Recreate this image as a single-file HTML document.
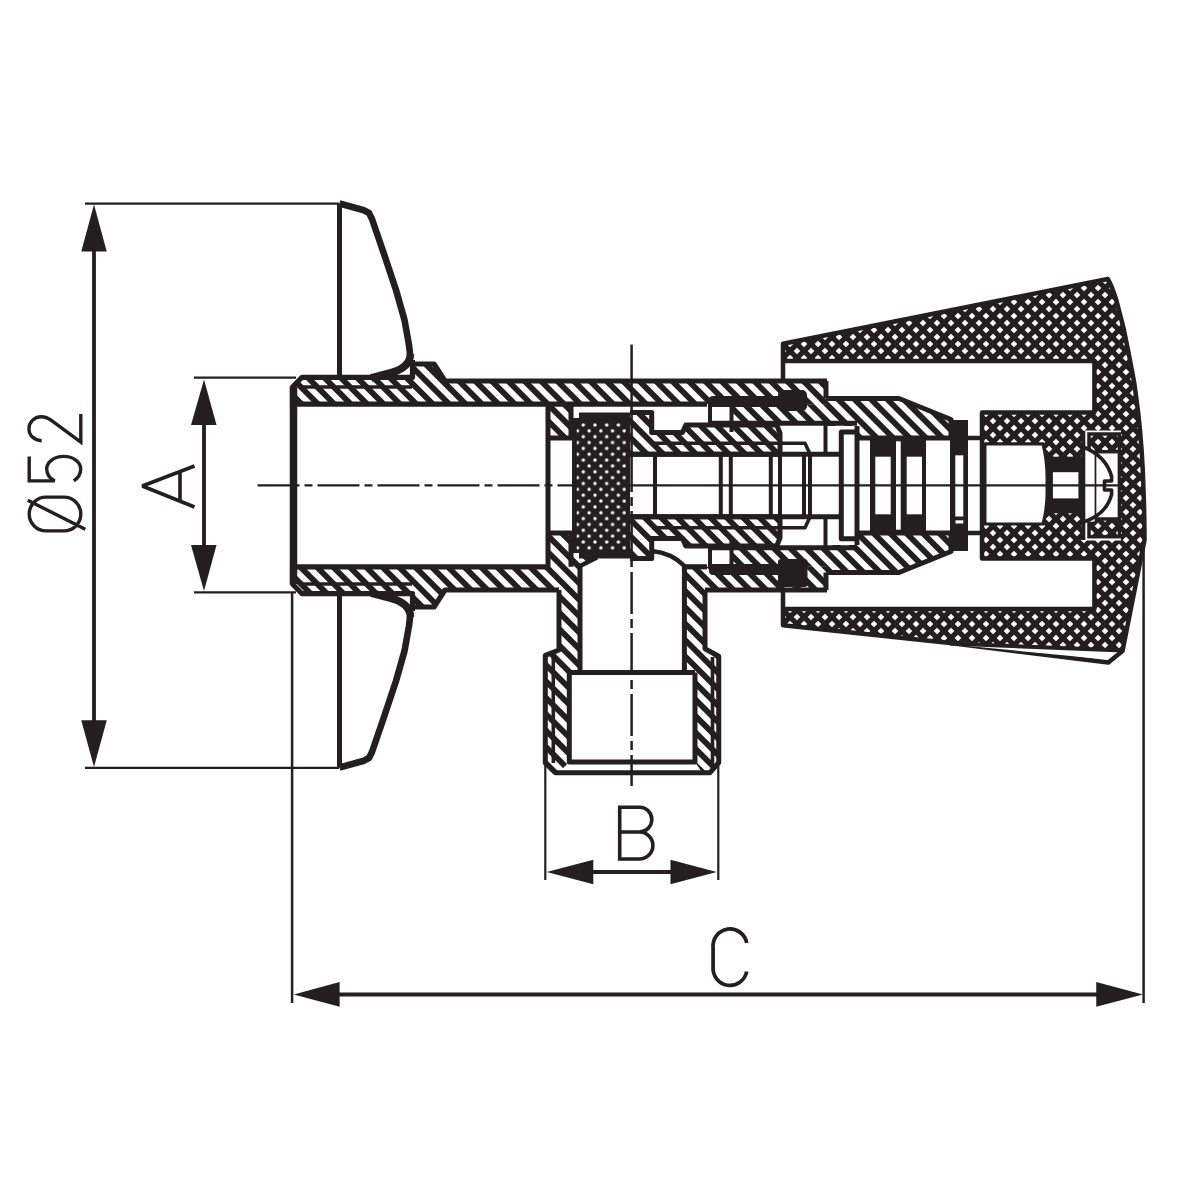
<!DOCTYPE html>
<html><head><meta charset="utf-8"><style>
html,body{margin:0;padding:0;background:#fff;}
svg{display:block;}
</style></head><body>
<svg width="1200" height="1200" viewBox="0 0 1200 1200">
<defs>
<pattern id="h" patternUnits="userSpaceOnUse" width="11.6" height="11.6" patternTransform="rotate(45)">
<rect x="0" y="0" width="11.6" height="5.8" fill="#231f20"/>
</pattern>
<pattern id="k" patternUnits="userSpaceOnUse" width="14" height="14" x="13" y="1">
<rect width="14" height="14" fill="#231f20"/>
<path d="M0,-3.3 L3.3,0 L0,3.3 L-3.3,0Z M14,-3.3 L17.3,0 L14,3.3 L10.7,0Z M0,10.7 L3.3,14 L0,17.3 L-3.3,14Z M14,10.7 L17.3,14 L14,17.3 L10.7,14Z M7,3.7 L10.3,7 L7,10.3 L3.7,7Z" fill="#fff"/>
</pattern>
<pattern id="d" patternUnits="userSpaceOnUse" width="11.7" height="11.7" x="583.3" y="425">
<rect width="11.9" height="11.9" fill="#231f20"/>
<circle cx="0" cy="0" r="1.7" fill="#fff"/><circle cx="11.7" cy="0" r="1.7" fill="#fff"/>
<circle cx="0" cy="11.7" r="1.7" fill="#fff"/><circle cx="11.7" cy="11.7" r="1.7" fill="#fff"/>
<circle cx="5.85" cy="5.85" r="1.7" fill="#fff"/>
</pattern>
</defs>
<rect width="1200" height="1200" fill="#fff"/>
<line x1="94" y1="250" x2="94" y2="722" stroke="#231f20" stroke-width="3.8" />
<polygon points="94,204.5 81.25,251.5 106.75,251.5" fill="#231f20" />
<polygon points="94,767 81.25,720.3 106.75,720.3" fill="#231f20" />
<line x1="85" y1="203.6" x2="339" y2="203.6" stroke="#231f20" stroke-width="2.2" />
<line x1="85" y1="767.8" x2="339" y2="767.8" stroke="#231f20" stroke-width="2.2" />
<line x1="204" y1="420" x2="204" y2="550" stroke="#231f20" stroke-width="3.8" />
<polygon points="204,379.5 191,425 216.5,425" fill="#231f20" />
<polygon points="204,591 191,545 216.5,545" fill="#231f20" />
<line x1="194" y1="377.7" x2="296" y2="377.7" stroke="#231f20" stroke-width="2.2" />
<line x1="194" y1="592.3" x2="296" y2="592.3" stroke="#231f20" stroke-width="2.2" />
<line x1="590" y1="872" x2="675" y2="872" stroke="#231f20" stroke-width="3.8" />
<polygon points="546.7,872 593.3,859.7 593.3,884.2" fill="#231f20" />
<polygon points="716.7,872 670.5,859.7 670.5,884.2" fill="#231f20" />
<line x1="545.3" y1="765" x2="545.3" y2="880" stroke="#231f20" stroke-width="2.2" />
<line x1="718.3" y1="765" x2="718.3" y2="880" stroke="#231f20" stroke-width="2.2" />
<line x1="335" y1="994.5" x2="1100" y2="994.5" stroke="#231f20" stroke-width="4" />
<polygon points="293.75,994.5 339.6,982 339.6,1006.7" fill="#231f20" />
<polygon points="1142.9,994.5 1096.25,982 1096.25,1006.7" fill="#231f20" />
<line x1="292.1" y1="592" x2="292.1" y2="1003" stroke="#231f20" stroke-width="2.5" />
<line x1="1143.6" y1="540" x2="1143.6" y2="1003" stroke="#231f20" stroke-width="2.5" />
<path fill="none" stroke="#231f20" stroke-width="3.6" stroke-linejoin="bevel" d="M194.5,466 L142.3,486 L194.5,507 M180,471.4 V500.6"/>
<path fill="none" stroke="#231f20" stroke-linecap="butt" stroke-linejoin="miter" stroke-width="3.6" d="M619.7,860.8 V807.2 H639.4 A12.4,12.4 0 0 1 639.4,832 H619.7 M639.4,832 A13.5,13.5 0 0 1 639.4,859 H619.7"/>
<path fill="none" stroke="#231f20" stroke-linecap="butt" stroke-linejoin="miter" stroke-width="3.75" d="M746.7,943 A17,17.3 0 0 0 713.1,948.1 V966.5 A17,17.3 0 0 0 746.7,971.5"/>
<g transform="translate(82.7,532.7) rotate(-90)"><path fill="none" stroke="#231f20" stroke-linecap="butt" stroke-linejoin="miter" stroke-width="3.4" d="M35.6,-36.6 V-18.8 A16.9,16.9 0 0 1 1.8,-18.8 V-36.6 A16.9,16.9 0 0 1 35.6,-36.6 Z M3.5,2.6 L32.5,-55 M76.2,-53.5 H51.8 L51.8,-28 Q56,-36 64,-36 A12.3,17 0 0 1 64,-2 Q56,-2 52,-9 M92,-41 A12,12.5 0 0 1 116,-41.5 Q116,-36 112,-31 L90.5,-1.9 H118.7"/></g>
<path d="M783,343.8 L1107.8,279 Q1112,286 1116.5,301 Q1124,327 1129,355 Q1135,383 1138,411 Q1142.5,450 1143.5,490 Q1144.5,515 1144.5,540 L1122.5,651 L950,643 L783,625.3 Z" fill="url(#k)" />
<polygon points="778,361 1094.4,361 1094.4,412.5 982,412.5 982,558.5 1094.4,558.5 1094.4,609 778,609" fill="#fff" />
<path d="M783,380 V343.8 L1107.8,279 Q1112,286 1116.5,301 Q1124,327 1129,355 Q1135,383 1138,411 Q1142.5,450 1143.5,490 Q1144.5,515 1144.5,540 L1122.5,651 L1108.3,662.5 L950,643 L783,625.3 V591" fill="none" stroke="#231f20" stroke-width="4.5" stroke-linejoin="round" />
<polyline points="785,361 1094.4,361 1094.4,412.5 982,412.5 982,558.5 1094.4,558.5 1094.4,609 785,609" fill="none" stroke="#231f20" stroke-width="4.5" stroke-linejoin="round" />
<polygon points="952,644.5 1119,650.5 1107.5,659.5" fill="#fff" />
<polyline points="950,643.5 1122.5,650.5" fill="none" stroke="#231f20" stroke-width="4" stroke-linejoin="round" />
<path d="M984.9,443.9 H1043 Q1048,464 1047,485 Q1048,506 1043,524 H984.9 Z" fill="#fff" stroke="#231f20" stroke-width="3.2" stroke-linejoin="round" />
<rect x="1047" y="456.7" width="36.3" height="56.6" fill="#231f20" />
<rect x="1052.9" y="472.2" width="25.5" height="26.2" fill="#fff" />
<rect x="1084.2" y="430.5" width="36.8" height="110.0" fill="#fff" />
<rect x="1089" y="434" width="30.4" height="102.7" fill="url(#k)" stroke="#231f20" stroke-width="3.5" />
<rect x="1094.6" y="451.7" width="24.8" height="67.3" fill="#fff" stroke="#231f20" stroke-width="3.5" />
<rect x="1085.5" y="449" width="9.1" height="72.5" fill="#fff" />
<line x1="1083.3" y1="431" x2="1083.3" y2="540" stroke="#231f20" stroke-width="4" />
<path d="M1083.3,447 Q1106,456 1111.6,476.5 L1111.6,481 L1104.5,481 L1104.5,490 L1111.6,490 L1111.6,494.5 Q1106,515 1083.3,522" fill="none" stroke="#231f20" stroke-width="3.6" stroke-linejoin="round" />
<polyline points="339.5,377 339.5,203.5" fill="none" stroke="#231f20" stroke-width="5" stroke-linejoin="round" />
<polyline points="339.5,203.5 364,210.3 369,213 372,219 384,254 396,290 404.5,320 409,345 410.5,358" fill="none" stroke="#231f20" stroke-width="6.6" stroke-linejoin="round" />
<polyline points="339.5,594.0 339.5,767.5" fill="none" stroke="#231f20" stroke-width="5" stroke-linejoin="round" />
<polyline points="339.5,767.5 364,760.7 369,758.0 372,752.0 384,717.0 396,681.0 404.5,651.0 409,626.0 410.5,613.0" fill="none" stroke="#231f20" stroke-width="6.6" stroke-linejoin="round" />
<path d="M410.5,354 Q410,368 390,373 L371,378" fill="none" stroke="#231f20" stroke-width="7.5" stroke-linejoin="round" />
<path d="M410.5,617.0 Q410,603.0 390,598.0 L371,593.0" fill="none" stroke="#231f20" stroke-width="7.5" stroke-linejoin="round" />
<line x1="412.5" y1="360" x2="412.5" y2="378" stroke="#231f20" stroke-width="5" />
<line x1="412.5" y1="611.0" x2="412.5" y2="593.0" stroke="#231f20" stroke-width="5" />
<polygon points="292.5,404.2 292.5,387 302,377.3 412.5,377.3 412.5,364 434,364 445,381 827,381 827,404.2" fill="url(#h)" />
<polyline points="292.5,404.2 292.5,387 302,377.3 412.5,377.3 412.5,364 434,364 445,381 827,381" fill="none" stroke="#231f20" stroke-width="5.2" stroke-linejoin="round" />
<polyline points="292.5,566.8 292.5,584.0 302,593.7 412.5,593.7 412.5,607.0 434,607.0 445,590.0 559,590" fill="none" stroke="#231f20" stroke-width="5.2" stroke-linejoin="round" />
<polyline points="705,590 827,590" fill="none" stroke="#231f20" stroke-width="5.2" stroke-linejoin="round" />
<line x1="292.5" y1="404.2" x2="707" y2="404.2" stroke="#231f20" stroke-width="5.2" />
<line x1="292.5" y1="566.8" x2="548" y2="566.8" stroke="#231f20" stroke-width="5.2" />
<line x1="684" y1="566.8" x2="707" y2="566.8" stroke="#231f20" stroke-width="5.2" />
<line x1="300" y1="387" x2="412" y2="387" stroke="#231f20" stroke-width="3.6" />
<line x1="300" y1="584.0" x2="412" y2="584.0" stroke="#231f20" stroke-width="3.6" />
<line x1="293.5" y1="387" x2="293.5" y2="584.0" stroke="#231f20" stroke-width="7.5" />
<line x1="548" y1="404" x2="548" y2="567.0" stroke="#231f20" stroke-width="5" />
<polygon points="548,404.2 571,404.2 571,438 548,438" fill="url(#h)" />
<polyline points="548,438 571,438 571,404.2" fill="none" stroke="#231f20" stroke-width="5" stroke-linejoin="round" />
<polygon points="292.5,566.8 548,566.8 548,533 572,533 572,557 597,557.5 580,566 580,672.5 569.3,672.5 569.3,762 560,771 555.3,772.7 545.3,763 545.3,655.3 559,650 559,590 445,590 434,607 412.5,607 412.5,593.7 302,593.7 292.5,584" fill="url(#h)" />
<polygon points="684.4,566.8 827,566.8 827,590 705,590 705,648.75 718.75,656.25 718.75,762.5 710,773.75 703,773.75 695,762 695,672.5 684.4,672.5" fill="url(#h)" />
<polyline points="548,533 571,533 571,566.8" fill="none" stroke="#231f20" stroke-width="5" stroke-linejoin="round" />
<polyline points="580,566 580,672.5" fill="none" stroke="#231f20" stroke-width="5" stroke-linejoin="round" />
<polyline points="597,557.5 580,566" fill="none" stroke="#231f20" stroke-width="4.5" stroke-linejoin="round" />
<polyline points="559,590 559,650 545.3,655.3 545.3,763 555.3,772.7 710,772.7 718.75,762.5 718.75,656.25 705,648.75 705,590" fill="none" stroke="#231f20" stroke-width="5" stroke-linejoin="round" />
<polyline points="569.3,672.5 695,672.5" fill="none" stroke="#231f20" stroke-width="5" stroke-linejoin="round" />
<polyline points="569.3,672.5 569.3,762 695,762 695,672.5" fill="none" stroke="#231f20" stroke-width="5" stroke-linejoin="round" />
<line x1="553.3" y1="657" x2="553.3" y2="763" stroke="#231f20" stroke-width="3.6" />
<line x1="712.5" y1="657" x2="712.5" y2="763" stroke="#231f20" stroke-width="3.6" />
<line x1="684.4" y1="566" x2="684.4" y2="672.5" stroke="#231f20" stroke-width="5" />
<path d="M651.5,551 Q672,553 684.4,566" fill="none" stroke="#231f20" stroke-width="4.5" stroke-linejoin="round" />
<polygon points="572,418 579,418 579,412.5 630,412.5 630,558.5 579,558.5 579,553 572,553" fill="#231f20" />
<rect x="576.7" y="421.7" width="49.3" height="129.1" fill="url(#d)" />
<polygon points="630,412.5 651.7,412.5 651.7,432.5 682.5,432.5 685.8,425 776.7,425 780,433 780,454.2 630,454.2" fill="url(#h)" />
<polyline points="630,412.5 651.7,412.5 651.7,432.5 682.5,432.5 685.8,425 776.7,425 780,433 780,454.2 630,454.2" fill="none" stroke="#231f20" stroke-width="5" stroke-linejoin="round" />
<polygon points="630,558.5 651.7,558.5 651.7,538.5 682.5,538.5 685.8,546.0 776.7,546.0 780,538.0 780,516.8 630,516.8" fill="url(#h)" />
<polyline points="630,558.5 651.7,558.5 651.7,538.5 682.5,538.5 685.8,546.0 776.7,546.0 780,538.0 780,516.8 630,516.8" fill="none" stroke="#231f20" stroke-width="5" stroke-linejoin="round" />
<polyline points="652,443.3 805,443.3 810,454" fill="none" stroke="#231f20" stroke-width="3.5" stroke-linejoin="round" />
<polyline points="652,527.7 805,527.7 810,517.0" fill="none" stroke="#231f20" stroke-width="3.5" stroke-linejoin="round" />
<line x1="630" y1="454.2" x2="842" y2="454.2" stroke="#231f20" stroke-width="5" />
<line x1="630" y1="516.8" x2="842" y2="516.8" stroke="#231f20" stroke-width="5" />
<line x1="655" y1="454" x2="655" y2="517.0" stroke="#231f20" stroke-width="4" />
<line x1="720.8" y1="454" x2="720.8" y2="517.0" stroke="#231f20" stroke-width="4" />
<line x1="730.8" y1="454" x2="730.8" y2="517.0" stroke="#231f20" stroke-width="4" />
<line x1="770.8" y1="454" x2="770.8" y2="517.0" stroke="#231f20" stroke-width="4" />
<line x1="780" y1="454" x2="780" y2="517.0" stroke="#231f20" stroke-width="4" />
<line x1="804" y1="454" x2="804" y2="517.0" stroke="#231f20" stroke-width="4" />
<line x1="810" y1="454" x2="810" y2="517.0" stroke="#231f20" stroke-width="4" />
<polygon points="731.5,404.2 826,404.2 826,423.3 731.5,423.3" fill="url(#h)" />
<polygon points="731.5,566.8 826,566.8 826,547.7 731.5,547.7" fill="url(#h)" />
<line x1="708" y1="423.3" x2="857" y2="423.3" stroke="#231f20" stroke-width="5" />
<line x1="708" y1="547.7" x2="857" y2="547.7" stroke="#231f20" stroke-width="5" />
<line x1="710" y1="404" x2="710" y2="423" stroke="#231f20" stroke-width="4" />
<line x1="710" y1="567.0" x2="710" y2="548.0" stroke="#231f20" stroke-width="4" />
<line x1="731.5" y1="404" x2="731.5" y2="432" stroke="#231f20" stroke-width="4" />
<line x1="731.5" y1="567.0" x2="731.5" y2="539.0" stroke="#231f20" stroke-width="4" />
<rect x="709" y="396" width="80" height="11" rx="4" fill="#231f20"/>
<rect x="709" y="564.0" width="80" height="11.0" rx="4" fill="#231f20"/>
<rect x="778" y="390" width="29" height="21" rx="5" fill="#231f20"/>
<rect x="778" y="559" width="29.5" height="28" rx="3" fill="#231f20"/>
<polygon points="826,398.5 899,398.5 951,419.5 951,438 857,438 857,426 826,426" fill="url(#h)" />
<polyline points="826,398.5 899,398.5 951,419.5 951,438 857,438" fill="none" stroke="#231f20" stroke-width="5" stroke-linejoin="round" />
<polygon points="826,572.5 899,572.5 951,551.5 951,533.0 857,533.0 857,545.0 826,545.0" fill="url(#h)" />
<polyline points="826,572.5 899,572.5 951,551.5 951,533.0 857,533.0" fill="none" stroke="#231f20" stroke-width="5" stroke-linejoin="round" />
<polyline points="826,381 826,398.5" fill="none" stroke="#231f20" stroke-width="5" stroke-linejoin="round" />
<polyline points="826,590.0 826,572.5" fill="none" stroke="#231f20" stroke-width="5" stroke-linejoin="round" />
<line x1="825.5" y1="423" x2="825.5" y2="452" stroke="#231f20" stroke-width="4" />
<line x1="825.5" y1="548.0" x2="825.5" y2="519.0" stroke="#231f20" stroke-width="4" />
<polyline points="856.7,432 841.3,432 841.3,538.7 856.7,538.7" fill="none" stroke="#231f20" stroke-width="5" stroke-linejoin="round" />
<line x1="857" y1="426" x2="857" y2="545" stroke="#231f20" stroke-width="5" />
<rect x="870" y="438" width="56" height="95" fill="#231f20" />
<rect x="875.3" y="456.7" width="15.4" height="57.6" fill="#fff" />
<rect x="906.7" y="456.7" width="15.3" height="57.6" fill="#fff" />
<rect x="896" y="441.3" width="4.7" height="88.4" fill="#fff" />
<rect x="950" y="420" width="18" height="131" fill="#231f20" />
<rect x="955.3" y="455.3" width="8.0" height="61.2" fill="#fff" />
<rect x="955.5" y="520.3" width="7.8" height="3.2" fill="#fff" />
<line x1="951" y1="438" x2="981" y2="438" stroke="#231f20" stroke-width="4.5" />
<line x1="951" y1="533.0" x2="981" y2="533.0" stroke="#231f20" stroke-width="4.5" />
<line x1="257.5" y1="485.4" x2="572" y2="485.4" stroke="#231f20" stroke-width="2.4" stroke-dasharray="42 5 8 5"/>
<line x1="626" y1="485.4" x2="1119" y2="485.4" stroke="#231f20" stroke-width="2.4"/>
<line x1="631.6" y1="344.6" x2="631.6" y2="450" stroke="#231f20" stroke-width="2.5"/>
<line x1="631.6" y1="450" x2="631.6" y2="786" stroke="#231f20" stroke-width="2.5" stroke-dasharray="42 5 9 5"/>
</svg>
</body></html>
